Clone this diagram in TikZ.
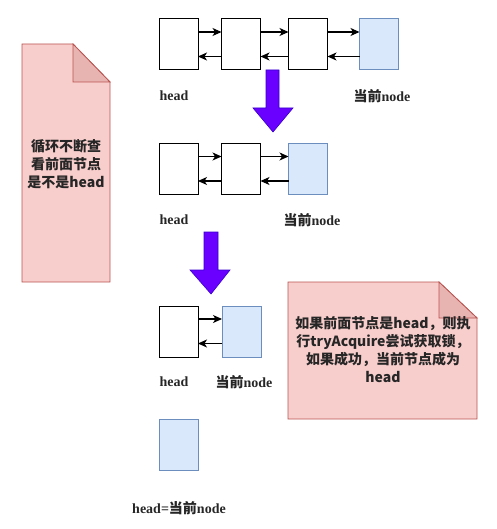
\documentclass[tikz,border=0pt]{standalone}
\usepackage{fontspec}
\setmainfont{Liberation Serif}
\newfontfamily\cjk{Noto Sans CJK SC}
\usetikzlibrary{arrows.meta}
\definecolor{notefill}{HTML}{F8CECC}
\definecolor{noteline}{HTML}{B85450}
\definecolor{flapfill}{HTML}{E8B4B2}
\definecolor{bluefill}{HTML}{DAE8FC}
\definecolor{blueline}{HTML}{6C8EBF}
\definecolor{violetfill}{HTML}{6A00FF}
\definecolor{violetline}{HTML}{3700CC}
\begin{document}
\begin{tikzpicture}[x=1pt,y=-1pt,
  box/.style={draw=black, line width=1pt, fill=white, minimum width=39pt, minimum height=51pt, inner sep=0pt, outer sep=0pt},
  cur/.style={box, draw=blueline, fill=bluefill},
  lbl/.style={font=\bfseries\fontsize{14}{16}\selectfont, inner sep=0pt, text=black!85},
  link/.style={-{Stealth[length=9pt,width=8pt,inset=2.5pt]}, line width=1.1pt},
  note/.style={draw=noteline, fill=notefill, line width=0.8pt},
  flap/.style={draw=noteline, fill=flapfill, line width=0.8pt},
  notetext/.style={font=\cjk\bfseries\fontsize{14}{18}\selectfont, align=center, inner sep=0pt, text=black!85},
  bigarrow/.style={fill=violetfill, draw=violetline, line width=0.6pt}]
\useasboundingbox (0,0) rectangle (496,529);

% row 1
\node[box] (a1) at (178.5,44.5) {};
\node[box] (a2) at (241,44.5) {};
\node[box] (a3) at (308,44.5) {};
\node[cur] (a4) at (379,44.5) {};
\foreach \p/\q in {a1/a2,a2/a3,a3/a4}{
  \draw[link] ([yshift=12.5pt]\p.east) -- ([yshift=12.5pt]\q.west);
  \draw[link] ([yshift=-12pt]\q.west) -- ([yshift=-12pt]\p.east);
}
\node[lbl] (la1) at (174,96) {head};
\node[lbl] (la4) at (382,96) {{\cjk 当前}node};

% big arrow 1
\draw[bigarrow] (266,70) -- (279,70) -- (279,108) -- (293,108) -- (273,132) -- (253,108) -- (266,108) -- cycle;

% row 2
\node[box] (b1) at (178.5,169) {};
\node[box] (b2) at (241,169) {};
\node[cur] (b3) at (308,169) {};
\foreach \p/\q in {b1/b2,b2/b3}{
  \draw[link] ([yshift=12.5pt]\p.east) -- ([yshift=12.5pt]\q.west);
  \draw[link] ([yshift=-12pt]\q.west) -- ([yshift=-12pt]\p.east);
}
\node[lbl] (lb1) at (174,220) {head};
\node[lbl] (lb3) at (312,220) {{\cjk 当前}node};

% big arrow 2
\draw[bigarrow] (204,232) -- (218,232) -- (218,270) -- (230,270) -- (211,294) -- (190,270) -- (204,270) -- cycle;

% row 3
\node[box] (c1) at (178.5,331.5) {};
\node[cur] (c2) at (241.5,331.5) {};
\draw[link] ([yshift=12.5pt]c1.east) -- ([yshift=12.5pt]c2.west);
\draw[link] ([yshift=-12pt]c2.west) -- ([yshift=-12pt]c1.east);
\node[lbl] (lc1) at (174,382) {head};
\node[lbl] (lc2) at (244,382) {{\cjk 当前}node};

% row 4
\node[cur] (d1) at (178.5,444.5) {};
\node[lbl] (ld1) at (179,508) {head={\cjk 当前}node};

% left note
\draw[note] (22,44) -- (73,44) -- (110,82) -- (110,282) -- (22,282) -- cycle;
\draw[flap] (73,44) -- (73,82) -- (110,82) -- cycle;
\node[notetext] (n1) at (66,164) {循环不断查\\看前面节点\\是不是head};

% right note
\draw[note] (288,282) -- (439,282) -- (477,318) -- (477,419) -- (288,419) -- cycle;
\draw[flap] (439,282) -- (439,318) -- (477,318) -- cycle;
\node[notetext] (n2) at (383,350) {如果前面节点是head，则执\\行tryAcquire尝试获取锁，\\如果成功，当前节点成为\\head};
\end{tikzpicture}
\end{document}
